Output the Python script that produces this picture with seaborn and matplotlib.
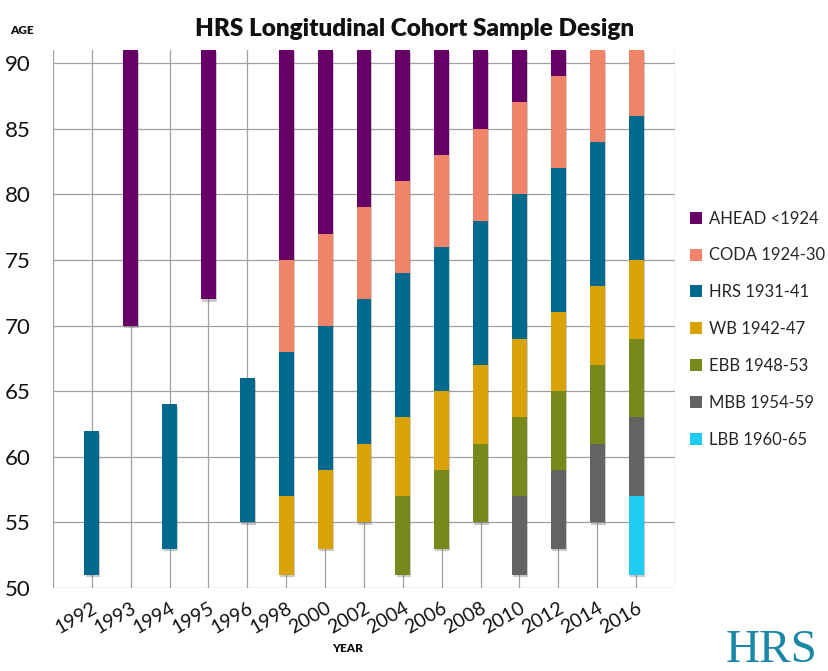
import numpy as np
import pandas as pd
import matplotlib
matplotlib.use("Agg")
import matplotlib.pyplot as plt
import matplotlib.patheffects as pe
from matplotlib.lines import Line2D
import seaborn as sns

nan = np.nan
years = ['1992', '1993', '1994', '1995', '1996', '1998', '2000', '2002',
         '2004', '2006', '2008', '2010', '2012', '2014', '2016']

cohorts = ['AHEAD <1924', 'CODA 1924-30', 'HRS 1931-41', 'WB 1942-47',
           'EBB 1948-53', 'MBB 1954-59', 'LBB 1960-65']
colors = ['#660066', '#EF8468', '#03698D', '#D8A306', '#78891C', '#636363', '#20CCF2']

# age ranges (low, high) per survey year; nan = not in sample
ahead_low  = [nan, 70, nan, 72, nan, 75, 77, 79, 81, 83, 85, 87, 89, nan, nan]
ahead_high = [nan, 91, nan, 91, nan, 91, 91, 91, 91, 91, 91, 91, 91, nan, nan]
coda_low   = [nan, nan, nan, nan, nan, 68, 70, 72, 74, 76, 78, 80, 82, 84, 86]
coda_high  = [nan, nan, nan, nan, nan, 75, 77, 79, 81, 83, 85, 87, 89, 91, 91]
hrs_low    = [51, nan, 53, nan, 55, 57, 59, 61, 63, 65, 67, 69, 71, 73, 75]
hrs_high   = [62, nan, 64, nan, 66, 68, 70, 72, 74, 76, 78, 80, 82, 84, 86]
wb_low     = [nan, nan, nan, nan, nan, 51, 53, 55, 57, 59, 61, 63, 65, 67, 69]
wb_high    = [nan, nan, nan, nan, nan, 57, 59, 61, 63, 65, 67, 69, 71, 73, 75]
ebb_low    = [nan, nan, nan, nan, nan, nan, nan, nan, 51, 53, 55, 57, 59, 61, 63]
ebb_high   = [nan, nan, nan, nan, nan, nan, nan, nan, 57, 59, 61, 63, 65, 67, 69]
mbb_low    = [nan, nan, nan, nan, nan, nan, nan, nan, nan, nan, nan, 51, 53, 55, 57]
mbb_high   = [nan, nan, nan, nan, nan, nan, nan, nan, nan, nan, nan, 57, 59, 61, 63]
lbb_low    = [nan, nan, nan, nan, nan, nan, nan, nan, nan, nan, nan, nan, nan, nan, 51]
lbb_high   = [nan, nan, nan, nan, nan, nan, nan, nan, nan, nan, nan, nan, nan, nan, 57]

lows = [ahead_low, coda_low, hrs_low, wb_low, ebb_low, mbb_low, lbb_low]
highs = [ahead_high, coda_high, hrs_high, wb_high, ebb_high, mbb_high, lbb_high]

rows = []
for c, lo, hi in zip(cohorts, lows, highs):
    for y, a, b in zip(years, lo, hi):
        if not np.isnan(a):
            rows.append(dict(cohort=c, year=y, low=a, high=b, span=b - a))
df = pd.DataFrame(rows)

sns.set_style('white')
plt.rcParams['font.family'] = ['Lato', 'DejaVu Sans']

fig = plt.figure(figsize=(8.29, 6.71), dpi=100)
ax = fig.add_axes([53 / 829, 1 - 588 / 671, (675 - 53) / 829, (588 - 50) / 671])

grid_c = '#a0a0a0'
shadow = [pe.SimplePatchShadow(offset=(0.8, -1.6), shadow_rgbFace='#555555', alpha=0.3), pe.Normal()]

for c, col, lo in zip(cohorts, colors, lows):
    sub = df[df.cohort == c]
    sns.barplot(data=sub, x='year', y='span', order=years, color=col,
                saturation=1, width=0.38, errorbar=None, ax=ax, zorder=3)
    for bar in ax.containers[-1]:
        idx = int(round(bar.get_x() + bar.get_width() / 2))
        bar.set_y(lo[idx])
        bar.set_linewidth(0)
        bar.set_path_effects(shadow)

ax.set_xlim(-1, len(years))
ax.set_ylim(50, 91)
ax.set_xticks(range(-1, len(years) + 1))
ax.set_xticklabels([''] + years + [''], rotation=30, ha='right',
                   rotation_mode='anchor', fontsize=14)
ax.set_yticks(range(50, 91, 5))
ax.set_yticklabels([str(v) for v in range(50, 91, 5)], fontsize=16)
ax.tick_params(axis='both', length=5, width=0.9, color=grid_c, colors='#111111')
ax.tick_params(axis='y', pad=11)
ax.tick_params(axis='x', pad=3)
ax.grid(True, color=grid_c, linewidth=0.9)
ax.set_axisbelow(True)
for s in ax.spines.values():
    s.set_visible(False)
ax.set_xlabel('')
ax.set_ylabel('')

fig.text(0.4995, 1 - 29 / 671, 'HRS Longitudinal Cohort Sample Design',
         ha='center', va='center', fontsize=17.5, fontweight='heavy', color='#111111')
fig.text(10 / 829, 1 - 30 / 671, 'AGE', ha='left', va='center',
         fontsize=8.5, fontweight='heavy', color='#111111')
fig.text(348 / 829, 1 - 649 / 671, 'YEAR', ha='center', va='center',
         fontsize=8.5, fontweight='heavy', color='#111111')
fig.text(772 / 829, 1 - 651 / 671, 'HRS', ha='center', va='center',
         fontsize=34, family=['Liberation Serif', 'DejaVu Serif'], color='#1a87a6')

handles = [Line2D([0], [0], marker='s', linestyle='', markersize=8,
                  markerfacecolor=col, markeredgewidth=0) for col in colors]
fig.legend(handles, cohorts, loc='upper left',
           bbox_to_anchor=(684 / 829, 1 - 204 / 671), frameon=False,
           fontsize=12, handlelength=0.7, handletextpad=0.4,
           labelspacing=1.25, borderaxespad=0)

fig.savefig('out.png', dpi=100)
